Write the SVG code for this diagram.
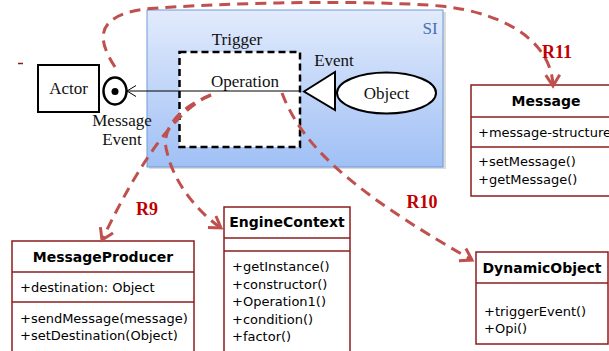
<svg xmlns="http://www.w3.org/2000/svg" width="609" height="351" viewBox="0 0 609 351">
<defs>
<linearGradient id="siGrad" x1="0" y1="0" x2="0" y2="1">
<stop offset="0" stop-color="#e2ebfc"/>
<stop offset="1" stop-color="#a0c0f5"/>
</linearGradient>
<marker id="ah" markerUnits="userSpaceOnUse" markerWidth="24" markerHeight="24" viewBox="-14 -12 18 24" refX="0" refY="0" orient="auto">
<path d="M-11,-7 L0,0 L-11,7" fill="none" stroke="#c0504d" stroke-width="3"/>
</marker>
</defs>
<style>
.serif{font-family:"Liberation Serif","Times New Roman",serif;font-size:17px;fill:#111}
.cls{fill:#fff;stroke:#8b1c1c;stroke-width:1.5}
.div{stroke:#8b1c1c;stroke-width:1.5}
.hdr{font-family:"DejaVu Sans",Verdana,sans-serif;font-size:14px;font-weight:bold;fill:#000}
.mem{font-family:"DejaVu Sans",Verdana,sans-serif;font-size:13px;fill:#000}
.rel{fill:none;stroke:#c0504d;stroke-width:3;stroke-dasharray:11 7}
.rlab{font-family:"Liberation Serif","Times New Roman",serif;font-size:18px;font-weight:bold;fill:#c00000}
</style>
<rect width="609" height="351" fill="#fff"/>
<line x1="18" y1="63.5" x2="23" y2="63.5" stroke="#8b1c1c" stroke-width="1.5"/>
<g id="SI">
<rect x="149" y="12" width="297" height="157" fill="#999" opacity="0.35"/>
<rect x="147" y="10" width="296" height="157" fill="url(#siGrad)" stroke="#6e9bd8" stroke-width="1"/>
<text x="430" y="34" text-anchor="middle" class="serif" style="fill:#4a70b0">SI</text>
</g>
<g id="Trigger">
<rect x="179.5" y="52" width="120.5" height="95" fill="#fff" stroke="#000" stroke-width="2.5" stroke-dasharray="7 4"/>
<text x="237" y="45" text-anchor="middle" class="serif">Trigger</text>
<text x="245" y="87" text-anchor="middle" class="serif">Operation</text>
</g>
<g id="Actor">
<rect x="38" y="65" width="61" height="47" fill="#fff" stroke="#000" stroke-width="2"/>
<text x="68.5" y="94" text-anchor="middle" class="serif">Actor</text>
</g>
<g id="MessageEvent">
<ellipse cx="115" cy="91" rx="11.5" ry="13.5" fill="#fff" stroke="#000" stroke-width="2.5"/>
<circle cx="115" cy="91.5" r="3.5" fill="#000"/>
<text x="122" y="126" text-anchor="middle" class="serif">Message</text>
<text x="122" y="145" text-anchor="middle" class="serif">Event</text>
</g>
<g id="EventObject">
<line x1="300" y1="91" x2="127" y2="91" stroke="#000" stroke-width="1"/>
<path d="M136,85.5 L127,91 L136,96.5" fill="none" stroke="#000" stroke-width="1"/>
<path d="M304,91.5 L335,72 L335,110 Z" fill="#fff" stroke="#000" stroke-width="2"/>
<text x="334" y="66" text-anchor="middle" class="serif">Event</text>
<ellipse cx="386.5" cy="93" rx="49.5" ry="20.5" fill="#fff" stroke="#000" stroke-width="2"/>
<text x="386.5" y="99" text-anchor="middle" class="serif">Object</text>
</g>
<g id="Message">
<rect x="471" y="85" width="160" height="111" class="cls"/>
<line x1="471" y1="117" x2="609" y2="117" class="div"/>
<line x1="471" y1="147" x2="609" y2="147" class="div"/>
<text x="546" y="106" text-anchor="middle" class="hdr">Message</text>
<text x="478" y="137" class="mem">+message-structure</text>
<text x="478" y="166" class="mem">+setMessage()</text>
<text x="478" y="184" class="mem">+getMessage()</text>
</g>
<g id="MessageProducer">
<rect x="12" y="241" width="182" height="120" class="cls"/>
<line x1="12" y1="272" x2="194" y2="272" class="div"/>
<line x1="12" y1="302" x2="194" y2="302" class="div"/>
<text x="103" y="262" text-anchor="middle" class="hdr">MessageProducer</text>
<text x="20" y="292" class="mem">+destination: Object</text>
<text x="20" y="323" class="mem">+sendMessage(message)</text>
<text x="20" y="340" class="mem">+setDestination(Object)</text>
</g>
<g id="EngineContext">
<rect x="224" y="207" width="126" height="154" class="cls"/>
<line x1="224" y1="238" x2="350" y2="238" class="div"/>
<line x1="224" y1="251" x2="350" y2="251" class="div"/>
<text x="287" y="227" text-anchor="middle" class="hdr">EngineContext</text>
<text x="232" y="271" class="mem">+getInstance()</text>
<text x="232" y="288.5" class="mem">+constructor()</text>
<text x="232" y="306" class="mem">+Operation1()</text>
<text x="232" y="323.5" class="mem">+condition()</text>
<text x="232" y="341" class="mem">+factor()</text>
</g>
<g id="DynamicObject">
<rect x="476" y="252" width="132" height="92" class="cls"/>
<line x1="476" y1="283" x2="608" y2="283" class="div"/>
<text x="542" y="273" text-anchor="middle" class="hdr">DynamicObject</text>
<text x="484" y="316" class="mem">+triggerEvent()</text>
<text x="484" y="333" class="mem">+Opi()</text>
</g>
<g id="connectors">
<path class="rel" d="M115,67 C96,38 96,16 145,9 C230,2 370,0 440,6 C510,13 552,45 553,86" marker-end="url(#ah)"/>
<path class="rel" d="M211,95 C178,108 140,160 102,240" marker-end="url(#ah)"/>
<path class="rel" d="M211,95 C178,108 160,130 167,152 C173,180 195,210 221,228" marker-end="url(#ah)"/>
<path class="rel" d="M282,93 C300,140 340,185 472,260" marker-end="url(#ah)"/>
<text x="557" y="58" text-anchor="middle" class="rlab">R11</text>
<text x="147" y="215" text-anchor="middle" class="rlab">R9</text>
<text x="422" y="208" text-anchor="middle" class="rlab">R10</text>
</g>
</svg>
